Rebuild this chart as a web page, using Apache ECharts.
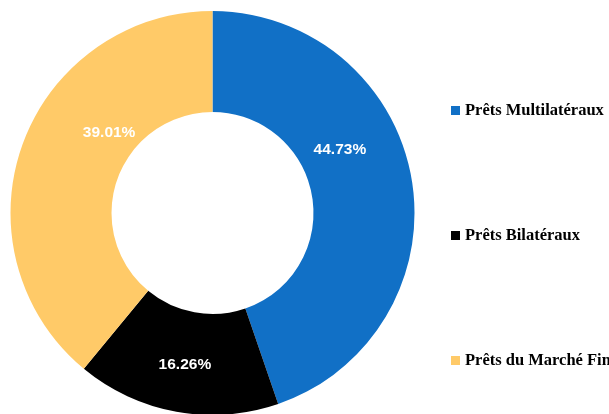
<!DOCTYPE html>
<html>
<head>
<meta charset="utf-8">
<script src="https://cdn.jsdelivr.net/npm/echarts@6/dist/echarts.min.js"></script>
<style>
html,body{margin:0;padding:0;background:#fff;}
#c{width:609px;height:414px;}
</style>
</head>
<body>
<div id="c"></div>
<script>
var categories = ['Prêts Multilatéraux', 'Prêts Bilatéraux', 'Prêts du Marché Financier'];
var values = [44.73, 16.26, 39.01];
var colors = ['#1170C6', '#000000', '#FFCA68'];
var labelOffsets = [[-25, -38], [0, 0], [42, -28]];

var chart = echarts.init(document.getElementById('c'));
chart.setOption({
  animation: false,
  legend: {
    orient: 'vertical',
    left: 446,
    top: 97,
    itemWidth: 9,
    itemHeight: 9,
    itemGap: 108,
    icon: 'rect',
    textStyle: {fontFamily: 'Liberation Serif', fontWeight: 'bold', fontSize: 16.5, color: '#000'},
    data: categories
  },
  series: [{
    type: 'pie',
    center: [212.5, 213],
    radius: [101, 202],
    startAngle: 90,
    clockwise: true,
    avoidLabelOverlap: false,
    label: {
      show: true,
      position: 'inside',
      formatter: function (p) { return p.value.toFixed(2) + '%'; },
      color: '#fff',
      fontFamily: 'Liberation Sans',
      fontWeight: 'bold',
      fontSize: 15.5
    },
    labelLine: {show: false},
    itemStyle: {borderWidth: 0},
    data: categories.map(function (n, i) {
      return {name: n, value: values[i], itemStyle: {color: colors[i]}, label: {offset: labelOffsets[i]}};
    })
  }]
});
</script>
</body>
</html>
